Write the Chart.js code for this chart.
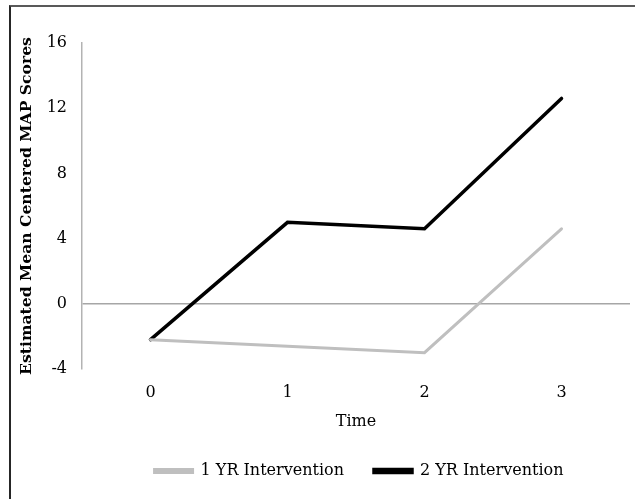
<!DOCTYPE html>
<html>
<head>
<meta charset="utf-8">
<script src="https://cdn.jsdelivr.net/npm/chart.js@4/dist/chart.umd.min.js"></script>
<style>
  html, body { margin: 0; padding: 0; background: #fff; }
  #wrap { position: relative; width: 635px; height: 499px; overflow: hidden; }
  #frame {
    position: absolute; left: 9px; top: 5px; width: 700px; height: 600px;
    border-left: 2px solid #262626; border-top: 2px solid #595959;
  }
  #chart { position: absolute; left: 0; top: 0; }
</style>
</head>
<body>
<div id="wrap">
  <div id="frame"></div>
  <canvas id="chart" width="635" height="499"></canvas>
</div>
<script>
const timePoints = ["0", "1", "2", "3"];
const oneYear = [-2.2, -2.6, -3.0, 4.6];
const twoYear = [-2.2, 5.0, 4.6, 12.6];
const yTicks = [-4, 0, 4, 8, 12, 16];

const FONT = "'DejaVu Serif', 'Liberation Serif', serif";
Chart.defaults.font.family = FONT;
Chart.defaults.color = "#000";

// legend in the reference is centred under the plot area, not the canvas
const legendShift = {
  id: "legendShift",
  afterLayout(chart) {
    if (chart.legend) chart.legend.left += 88;
  },
};

new Chart(document.getElementById("chart"), {
  type: "line",
  data: {
    labels: timePoints,
    datasets: [
      {
        label: "1 YR Intervention",
        data: oneYear,
        borderColor: "#bfbfbf",
        backgroundColor: "#bfbfbf",
        borderWidth: 3,
        borderCapStyle: "round",
        pointRadius: 0,
      },
      {
        label: "2 YR Intervention",
        data: twoYear,
        borderColor: "#000",
        backgroundColor: "#000",
        borderWidth: 3.5,
        borderCapStyle: "round",
        pointRadius: 0,
      },
    ],
  },
  options: {
    responsive: false,
    animation: false,
    layout: { padding: { top: 43, right: 5, bottom: 10, left: 0 } },
    scales: {
      x: {
        offset: true,
        grid: { display: false },
        border: { display: false },
        ticks: { padding: 6, font: { size: 16 } },
        title: { display: true, text: "Time", font: { size: 16 }, padding: { top: 0, bottom: 2 } },
        afterFit: (s) => { s.height = 64; },
      },
      y: {
        min: -4,
        max: 16,
        afterBuildTicks: (s) => { s.ticks = yTicks.map((v) => ({ value: v })); },
        grid: {
          drawTicks: false,
          color: (ctx) => (ctx.tick && ctx.tick.value === 0 ? "#a6a6a6" : "rgba(0,0,0,0)"),
          lineWidth: 1.5,
        },
        border: { display: true, color: "#b3b3b3", width: 1.5 },
        ticks: { padding: 15, font: { size: 16 } },
        title: {
          display: true,
          text: "Estimated Mean Centered MAP Scores",
          font: { size: 15.6, weight: "bold" },
          padding: { top: 18, bottom: 0 },
        },
        afterFit: (s) => { s.width = 82; },
      },
    },
    plugins: {
      legend: {
        position: "bottom",
        labels: { boxWidth: 38, boxHeight: 3, padding: 30, font: { size: 16 } },
      },
      tooltip: { enabled: false },
    },
  },
  plugins: [legendShift],
});
</script>
</body>
</html>
